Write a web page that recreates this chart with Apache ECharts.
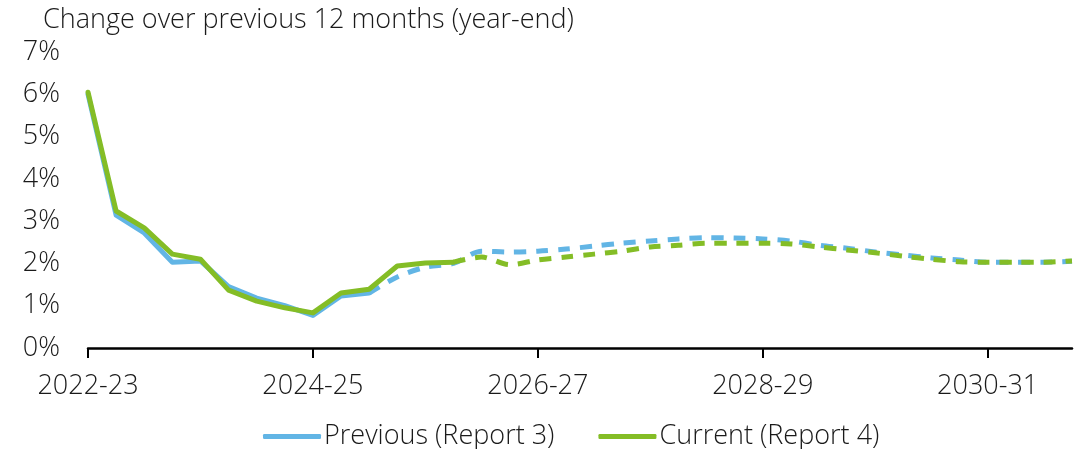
<!DOCTYPE html>
<html>
<head>
    <meta charset="utf-8">
    <title>Change over previous 12 months</title>
    <script src="https://cdn.jsdelivr.net/npm/echarts@6/dist/echarts.min.js"></script>
    <style>
        body { margin: 0; background: #fff; }
    </style>
</head>
<body>
    <div id="chart" style="width: 1084px;height:449px;"></div>

    <script>
        // financial years, four quarters each
        const years = ['2022-23', '2023-24', '2024-25', '2025-26', '2026-27',
                       '2027-28', '2028-29', '2029-30', '2030-31']
        const quarters = []
        years.forEach(y => ['Q1', 'Q2', 'Q3', 'Q4'].forEach(q => quarters.push(y + ' ' + q)))

        const yTicks = [0, 1, 2, 3, 4, 5, 6, 7]

        // Previous (Report 3): actuals up to index 10, forecast after
        const previous = [6.00, 3.14, 2.72, 2.03, 2.06, 1.45, 1.18, 1.00, 0.77, 1.23, 1.30,
                          1.68, 1.91, 2.00, 2.29, 2.27, 2.29, 2.34, 2.41, 2.48, 2.53, 2.58,
                          2.61, 2.60, 2.58, 2.53, 2.43, 2.36, 2.27, 2.20, 2.13, 2.08, 2.03,
                          2.03, 2.03, 2.05]
        const previousLastActual = 10

        // Current (Report 4): actuals up to index 13, forecast after
        const current = [6.05, 3.24, 2.84, 2.22, 2.10, 1.37, 1.11, 0.95, 0.83, 1.30, 1.39,
                         1.94, 2.01, 2.03, 2.15, 1.97, 2.08, 2.15, 2.22, 2.29, 2.39, 2.43,
                         2.48, 2.48, 2.48, 2.46, 2.39, 2.32, 2.25, 2.17, 2.10, 2.04, 2.03,
                         2.03, 2.03, 2.06]
        const currentLastActual = 13

        const blue = '#62b5e5'
        const green = '#84bd26'
        const font = '"Open Sans", sans-serif'
        const text = { fontFamily: font, fontSize: 27, fontWeight: 300, color: '#1a1a1a' }

        const part = (vals, last, actual) =>
            vals.map((v, i) => (actual ? i <= last : i >= last) ? v : null)

        const lineSeries = (name, color, vals, last, actual) => ({
            name: name,
            type: 'line',
            data: part(vals, last, actual),
            showSymbol: false,
            symbol: 'none',
            smooth: actual ? false : 0.3,
            lineStyle: {
                color: color,
                width: 5,
                type: actual ? 'solid' : [12, 10],
                cap: actual ? 'round' : 'butt',
                join: 'round'
            },
            itemStyle: { color: color },
            silent: true,
            animation: false
        })

        const chart = echarts.init(document.getElementById('chart'))
        chart.setOption({
            title: {
                text: 'Change over previous 12 months (year-end)',
                left: 38,
                top: 2,
                textStyle: text
            },
            legend: {
                data: ['Previous (Report 3)', 'Current (Report 4)'],
                left: 258,
                top: 418,
                icon: 'roundRect',
                itemWidth: 58,
                itemHeight: 5,
                itemGap: 44,
                textStyle: Object.assign({ padding: [0, 0, 0, -2] }, text)
            },
            grid: { left: 88, right: 12, top: 52, bottom: 101 },
            xAxis: {
                type: 'category',
                data: quarters,
                boundaryGap: false,
                axisLine: { lineStyle: { color: '#000', width: 2.5 } },
                axisTick: { interval: 7, length: 10, lineStyle: { color: '#000', width: 2 } },
                axisLabel: Object.assign({
                    interval: 7,
                    margin: 25,
                    formatter: v => v.split(' ')[0]
                }, text),
                splitLine: { show: false }
            },
            yAxis: {
                type: 'value',
                min: yTicks[0],
                max: yTicks[yTicks.length - 1],
                interval: 1,
                axisLine: { show: false },
                axisTick: { show: false },
                splitLine: { show: false },
                axisLabel: Object.assign({ margin: 28, formatter: '{value}%' }, text)
            },
            series: [
                lineSeries('Previous (Report 3)', blue, previous, previousLastActual, true),
                lineSeries('Previous (Report 3)', blue, previous, previousLastActual, false),
                lineSeries('Current (Report 4)', green, current, currentLastActual, true),
                lineSeries('Current (Report 4)', green, current, currentLastActual, false)
            ]
        })
    </script>
</body>
</html>
